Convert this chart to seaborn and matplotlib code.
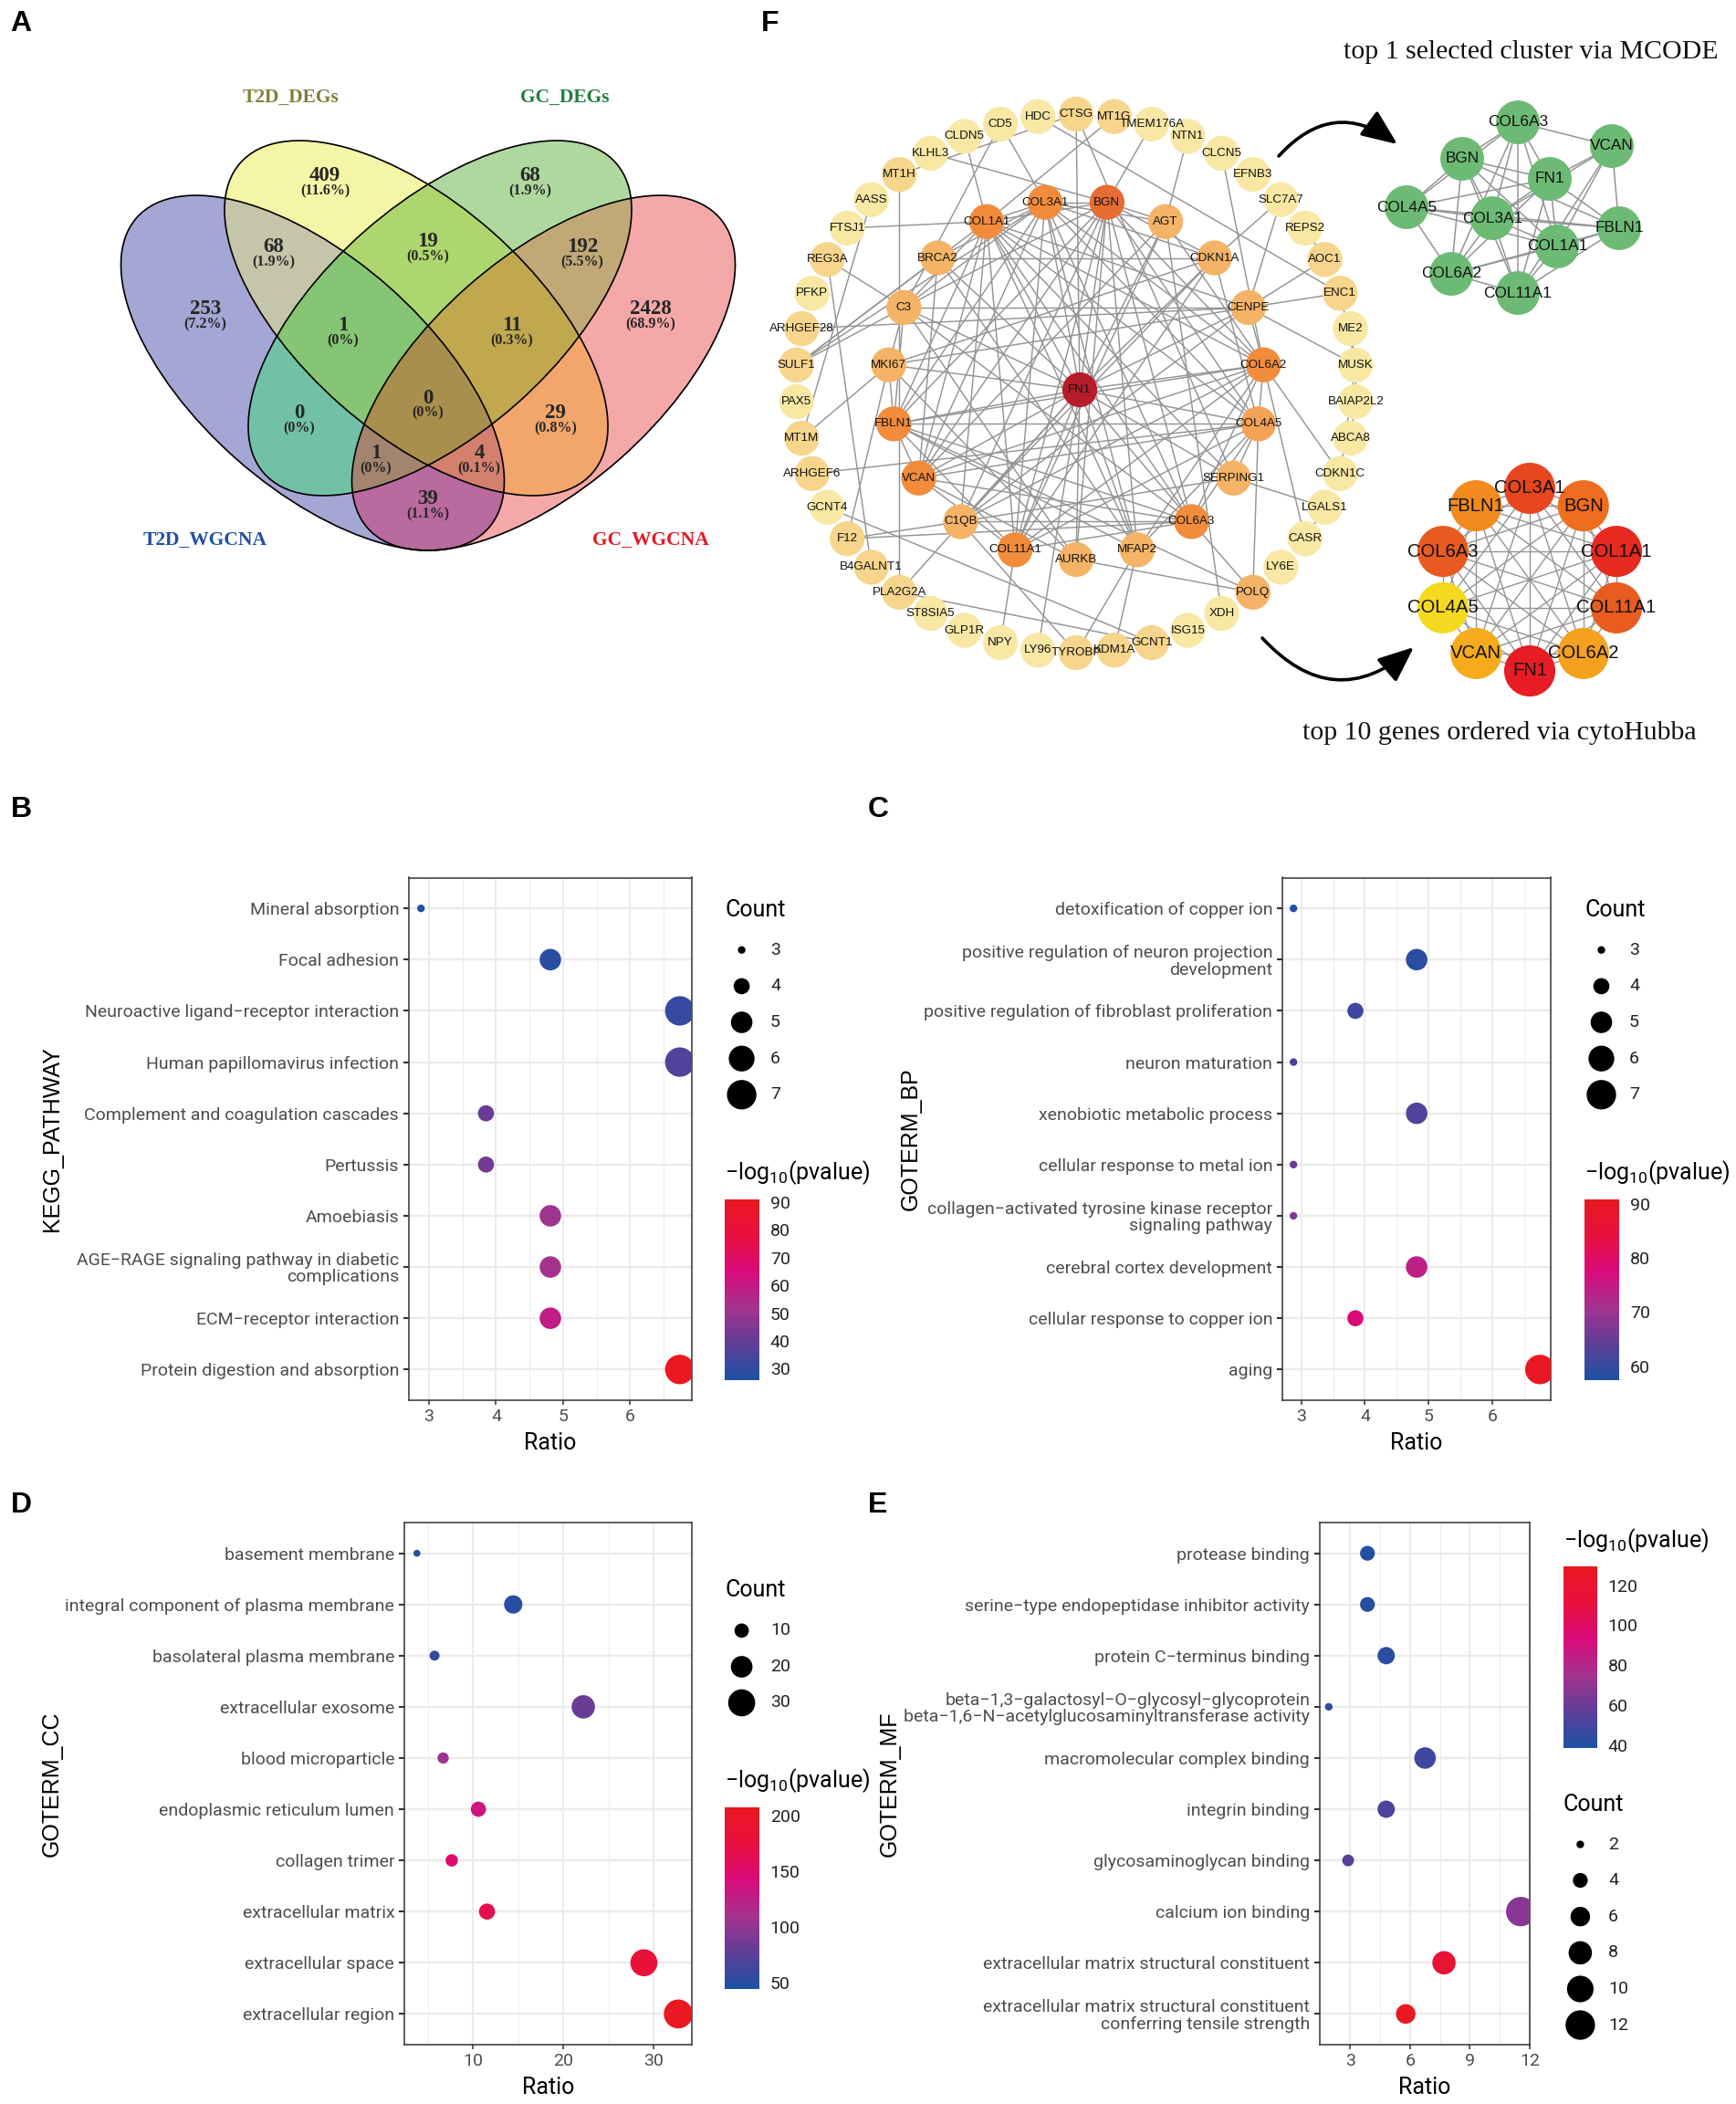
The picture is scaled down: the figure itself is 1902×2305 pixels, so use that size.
import itertools
import numpy as np
import pandas as pd
import seaborn as sns
import matplotlib
matplotlib.use("Agg")
import matplotlib.pyplot as plt
from matplotlib.cm import ScalarMappable
from matplotlib.colors import LinearSegmentedColormap, Normalize, to_rgba
from matplotlib.patches import Ellipse, FancyArrowPatch

W, H = 1902, 2305

# ---- dot plot data
kegg_terms = ["Mineral absorption", "Focal adhesion", "Neuroactive ligand\u2212receptor interaction",
              "Human papillomavirus infection", "Complement and coagulation cascades", "Pertussis",
              "Amoebiasis", "AGE\u2212RAGE signaling pathway in diabetic\ncomplications",
              "ECM\u2212receptor interaction", "Protein digestion and absorption"]
kegg_ratio = [2.88, 4.81, 6.74, 6.74, 3.85, 3.85, 4.81, 4.81, 4.81, 6.74]
kegg_count = [3, 5, 7, 7, 4, 4, 5, 5, 5, 7]
kegg_logp = [27, 29, 31, 36, 41, 43, 51, 52, 59, 90]

bp_terms = ["detoxification of copper ion", "positive regulation of neuron projection\ndevelopment",
            "positive regulation of fibroblast proliferation", "neuron maturation",
            "xenobiotic metabolic process", "cellular response to metal ion",
            "collagen\u2212activated tyrosine kinase receptor\nsignaling pathway",
            "cerebral cortex development", "cellular response to copper ion", "aging"]
bp_ratio = [2.88, 4.81, 3.85, 2.88, 4.81, 2.88, 2.88, 4.81, 3.85, 6.74]
bp_count = [3, 5, 4, 3, 5, 3, 3, 5, 4, 7]
bp_logp = [58, 59, 61, 62, 63, 65, 67, 74, 78, 90]

cc_terms = ["basement membrane", "integral component of plasma membrane", "basolateral plasma membrane",
            "extracellular exosome", "blood microparticle", "endoplasmic reticulum lumen",
            "collagen trimer", "extracellular matrix", "extracellular space", "extracellular region"]
cc_ratio = [3.8, 14.45, 5.75, 22.2, 6.7, 10.6, 7.65, 11.55, 28.9, 32.7]
cc_count = [4, 15, 6, 23, 7, 11, 8, 12, 30, 34]
cc_logp = [48, 50, 55, 82, 105, 135, 150, 165, 180, 205]

mf_terms = ["protease binding", "serine\u2212type endopeptidase inhibitor activity", "protein C\u2212terminus binding",
            "beta\u22121,3\u2212galactosyl\u2212O\u2212glycosyl\u2212glycoprotein\nbeta\u22121,6\u2212N\u2212acetylglucosaminyltransferase activity",
            "macromolecular complex binding", "integrin binding", "glycosaminoglycan binding",
            "calcium ion binding", "extracellular matrix structural constituent",
            "extracellular matrix structural constituent\nconferring tensile strength"]
mf_ratio = [3.86, 3.86, 4.8, 1.92, 6.75, 4.8, 2.89, 11.55, 7.7, 5.78]
mf_count = [4, 4, 5, 2, 7, 5, 3, 12, 8, 6]
mf_logp = [41, 42, 43, 44, 48, 52, 55, 67, 118, 128]

# ---- venn data
venn_counts = [253, 409, 68, 2428, 68, 19, 192, 1, 11, 0, 0, 29, 1, 4, 39]
venn_pcts = ["7.2%", "11.6%", "1.9%", "68.9%", "1.9%", "0.5%", "5.5%", "0%", "0.3%",
             "0%", "0%", "0.8%", "0%", "0.1%", "1.1%"]
venn_x = [225, 356, 581, 713, 300, 469, 638, 376, 561, 328, 469, 609, 412, 525, 469]
venn_y = [342, 196, 196, 342, 274, 268, 274, 360, 360, 456, 439, 456, 500, 500, 550]
venn_sets = ["T2D_WGCNA", "T2D_DEGs", "GC_DEGs", "GC_WGCNA"]

# one colour per overlap, B/Y/G/R = the four sets
region_colors = {"B": "#a4a6d5", "Y": "#f5f5a8", "G": "#afd8a0", "R": "#f5a8a8",
                 "BY": "#c5c6aa", "YG": "#aed66e", "GR": "#c2a878", "BG": "#72c2a7",
                 "YR": "#f4a66d", "BR": "#ba6a9f", "BYG": "#85c573", "YGR": "#c2a84f",
                 "BYR": "#d48070", "BGR": "#a38470", "BYGR": "#a98f4e"}

# ---- network data
outer_genes = ["CTSG", "MT1G", "TMEM176A", "NTN1", "CLCN5", "EFNB3", "SLC7A7", "REPS2", "AOC1", "ENC1", "ME2",
               "MUSK", "BAIAP2L2", "ABCA8", "CDKN1C", "LGALS1", "CASR", "LY6E", "POLQ", "XDH", "ISG15", "GCNT1",
               "KDM1A", "TYROBP", "LY96", "NPY", "GLP1R", "ST8SIA5", "PLA2G2A", "B4GALNT1", "F12", "GCNT4",
               "ARHGEF6", "MT1M", "PAX5", "SULF1", "ARHGEF28", "PFKP", "REG3A", "FTSJ1", "AASS", "MT1H", "KLHL3",
               "CLDN5", "CD5", "HDC"]
inner_genes = ["BGN", "AGT", "CDKN1A", "CENPE", "COL6A2", "COL4A5", "SERPING1", "COL6A3", "MFAP2", "AURKB",
               "COL11A1", "C1QB", "VCAN", "FBLN1", "MKI67", "C3", "BRCA2", "COL1A1", "COL3A1"]
level_1 = ["MT1G", "MT1H", "ENC1", "PLA2G2A", "F12", "B4GALNT1", "SULF1", "MT1M", "ARHGEF6", "ARHGEF28", "CTSG",
           "KDM1A", "TYROBP", "GCNT1", "AOC1", "REG3A"]
level_2 = ["POLQ", "AGT", "CDKN1A", "CENPE", "C3", "BRCA2", "MKI67", "AURKB", "MFAP2", "SERPING1", "C1QB"]
level_3 = ["COL4A5"]
level_4 = ["COL1A1", "COL3A1", "COL6A2", "COL6A3", "FBLN1", "VCAN", "COL11A1"]
level_colors = ["#f8e8a4", "#f7d58c", "#f4b366", "#f4a256", "#f08c3c", "#e66c33", "#b71c2a"]

core_genes = ["FN1", "COL1A1", "COL3A1", "BGN", "COL6A2", "COL6A3", "COL4A5", "COL11A1", "FBLN1", "VCAN"]
other_edges = [("FN1", g) for g in ["AGT", "CDKN1A", "CENPE", "BRCA2", "C3", "MKI67", "SERPING1", "C1QB", "AURKB",
                                    "MFAP2", "CTSG", "LY96", "PLA2G2A"]]
other_edges += [("CTSG", "MT1H"), ("CTSG", "SERPING1"), ("HDC", "ENC1"), ("MT1G", "COL1A1"), ("TMEM176A", "BGN"),
                ("NTN1", "AGT"), ("KLHL3", "BGN"), ("CD5", "COL3A1"), ("CLDN5", "COL1A1"), ("CD5", "C3"),
                ("AASS", "MT1M"), ("MT1H", "PLA2G2A"), ("REG3A", "C3"), ("REG3A", "B4GALNT1"), ("FTSJ1", "COL1A1"),
                ("F12", "C1QB"), ("F12", "MKI67"), ("F12", "COL6A3"), ("MT1M", "MKI67"), ("ARHGEF6", "COL4A5"),
                ("ARHGEF28", "CENPE"), ("SULF1", "BRCA2"), ("SULF1", "COL1A1"), ("SULF1", "C3"), ("SULF1", "COL3A1"),
                ("GCNT4", "GCNT1"), ("PLA2G2A", "GCNT1"), ("C1QB", "TYROBP"), ("COL11A1", "NPY"),
                ("KDM1A", "MFAP2"), ("TYROBP", "MFAP2"), ("POLQ", "AURKB"), ("POLQ", "COL6A3"), ("POLQ", "COL4A5"),
                ("POLQ", "FBLN1"), ("XDH", "AGT"), ("LGALS1", "SERPING1"), ("CASR", "COL6A2"), ("CASR", "LGALS1"),
                ("CDKN1C", "COL6A2"), ("MUSK", "CDKN1C"), ("MUSK", "CENPE"), ("AOC1", "CENPE"), ("ENC1", "CENPE"),
                ("ENC1", "MUSK"), ("ME2", "MUSK"), ("MUSK", "BAIAP2L2"), ("BAIAP2L2", "ABCA8"), ("REPS2", "AOC1"),
                ("SLC7A7", "CENPE"), ("SLC7A7", "CDKN1A"), ("CLCN5", "COL6A2"), ("CDKN1A", "BRCA2"),
                ("COL3A1", "AGT"), ("COL3A1", "CDKN1A"), ("COL3A1", "C3"), ("COL3A1", "BRCA2"), ("COL3A1", "MFAP2"),
                ("COL1A1", "C3"), ("COL1A1", "MFAP2"), ("COL1A1", "SERPING1"), ("COL1A1", "C1QB"), ("COL1A1", "CENPE"),
                ("BGN", "C3"), ("BGN", "C1QB"), ("BGN", "AGT"), ("BGN", "MFAP2"), ("BGN", "CDKN1A"), ("BGN", "AURKB"),
                ("C3", "FBLN1"), ("C3", "MKI67"), ("C3", "AURKB"), ("C3", "COL6A3"), ("C3", "CENPE"), ("BRCA2", "MFAP2"),
                ("BRCA2", "VCAN"), ("MKI67", "CENPE"), ("MKI67", "AURKB"), ("MKI67", "CDKN1A"), ("MKI67", "FBLN1"),
                ("AGT", "COL6A2"), ("AGT", "COL11A1"), ("AGT", "VCAN"), ("CDKN1A", "COL4A5"),
                ("CDKN1A", "COL11A1"), ("CDKN1A", "C1QB"), ("CENPE", "C1QB"), ("CENPE", "COL6A2"),
                ("C1QB", "SERPING1"), ("C1QB", "COL6A3"), ("C1QB", "COL6A2"), ("MFAP2", "COL6A2"),
                ("MFAP2", "FBLN1"), ("MFAP2", "COL4A5"), ("SERPING1", "COL4A5"), ("AURKB", "VCAN")]

mcode_genes = ["COL6A3", "VCAN", "BGN", "FN1", "COL4A5", "COL3A1", "FBLN1", "COL1A1", "COL6A2", "COL11A1"]
mcode_missing = [("VCAN", "COL4A5"), ("VCAN", "COL6A2"), ("VCAN", "BGN"), ("FBLN1", "COL6A3"), ("COL4A5", "COL11A1")]
mcode_x = [1663, 1766, 1602, 1698, 1541, 1635, 1774, 1706, 1590, 1663]
mcode_y = [134, 160, 174, 196, 227, 239, 250, 270, 300, 321]

hubba_genes = ["COL3A1", "BGN", "COL1A1", "COL11A1", "COL6A2", "FN1", "VCAN", "COL4A5", "COL6A3", "FBLN1"]
hubba_colors = ["#e8461f", "#ee6d1f", "#e62a20", "#e85c20", "#f5a01e", "#e71d25", "#f5ab1c", "#f4d91f", "#e85a20",
                "#f28a1e"]

sns.set_theme(style="white")
# the original labels use a condensed Helvetica, Roboto is the closest that is installed
plt.rcParams["font.family"] = ["Roboto", "Liberation Sans", "DejaVu Sans"]
plt.rcParams["mathtext.fontset"] = "custom"
plt.rcParams["mathtext.rm"] = "Roboto"
plt.rcParams["mathtext.it"] = "Roboto"
plt.rcParams["mathtext.bf"] = "Roboto"

TICK_SIZE = 14.0
LOGP_LABEL = r"$\mathrm{-log}_{10}\mathrm{(pvalue)}$"
cmap = LinearSegmentedColormap.from_list(
    "dots", ["#1c52a6", "#5f3e97", "#a4338f", "#d90b7b", "#e9103f", "#e9181f"])

fig = plt.figure(figsize=(W / 100, H / 100), dpi=100, facecolor="white")


def px_axes(left, top, right, bottom, **kw):
    return fig.add_axes([left / W, 1 - bottom / H, (right - left) / W, (bottom - top) / H], **kw)


# overlay in pixel coordinates for the venn, the network and the legends
overlay = px_axes(0, 0, W, H, zorder=5)
overlay.patch.set_alpha(0)
overlay.axis("off")


def dot_panel(terms, ratio, count, logp, box, xlim, major, minor, ylabel, label_x, lim, sizes):
    df = pd.DataFrame({"term": terms, "ratio": ratio, "count": count, "logp": logp})
    ax = px_axes(*box)
    sns.scatterplot(data=df, x="ratio", y="term", hue="logp", size="count", palette=cmap,
                    hue_norm=Normalize(*lim), sizes=sizes, size_norm=(min(count), max(count)),
                    linewidth=0, legend=False, ax=ax, zorder=3)
    ax.set_xlim(*xlim)
    ax.set_ylim(9.6, -0.6)
    ax.set_xticks(major)
    ax.set_xticks(minor, minor=True)
    ax.grid(False)
    ax.set_axisbelow(True)
    ax.grid(axis="y", which="major", color="#ebebeb", lw=1.7)
    ax.grid(axis="x", which="major", color="#ebebeb", lw=1.4)
    ax.grid(axis="x", which="minor", color="#ebebeb", lw=0.7)
    for s in ax.spines.values():
        s.set_color("#333333")
        s.set_linewidth(1.1)
    ax.tick_params(axis="x", which="major", bottom=True, length=3.6, width=1.1, color="#333333",
                   labelsize=TICK_SIZE, labelcolor="#4d4d4d", pad=3)
    ax.tick_params(axis="x", which="minor", bottom=False)
    ax.tick_params(axis="y", left=True, length=4.3, width=1.5, color="#333333",
                   labelsize=TICK_SIZE, labelcolor="#4d4d4d", pad=3.5)
    for lab in ax.get_yticklabels():
        lab.set_multialignment("right")
        lab.set_linespacing(1.03)
    ax.set_xlabel("Ratio", fontsize=18, color="black", labelpad=6)
    ax.set_ylabel(ylabel, fontsize=18, family=["Liberation Sans"], color="black")
    ax.yaxis.set_label_coords((label_x + 13 - box[0]) / (box[2] - box[0]), 0.5)
    return ax


def count_legend(title_x, title_y, dot_x, label_x, ys, values, sizes, value_range):
    overlay.text(title_x, title_y, "Count", fontsize=18, va="center", ha="left", color="black")
    sns.scatterplot(x=[dot_x] * len(values), y=ys, size=values, sizes=sizes, size_norm=value_range,
                    color="black", linewidth=0, legend=False, ax=overlay)
    for y, v in zip(ys, values):
        overlay.text(label_x, y, str(v), fontsize=TICK_SIZE, va="center", ha="left", color="#222222")


def color_bar(title_x, title_y, box, lim, ticks):
    overlay.text(title_x, title_y, LOGP_LABEL, fontsize=18, va="center", ha="left", color="black")
    cax = px_axes(*box)
    cb = fig.colorbar(ScalarMappable(Normalize(*lim), cmap), cax=cax, ticks=ticks)
    cb.outline.set_visible(False)
    cax.tick_params(left=True, right=True, direction="in", color="white", length=5.4, width=0.9,
                    labelsize=TICK_SIZE, labelcolor="#222222", pad=8.5)


SIZE_LARGE = (36, 540)
SIZE_CC = (30, 520)
dot_panel(kegg_terms, kegg_ratio, kegg_count, kegg_logp, (448, 961.5, 758, 1534), (2.70, 6.92), [3, 4, 5, 6],
          [3.5, 4.5, 5.5, 6.5], "KEGG_PATHWAY", 56, (25.8, 91), SIZE_LARGE)
dot_panel(bp_terms, bp_ratio, bp_count, bp_logp, (1405, 961.5, 1699, 1534), (2.706, 6.91), [3, 4, 5, 6],
          [3.5, 4.5, 5.5, 6.5], "GOTERM_BP", 997, (57.4, 90.8), SIZE_LARGE)
dot_panel(cc_terms, cc_ratio, cc_count, cc_logp, (443, 1668, 758, 2240), (2.41, 34.2), [10, 20, 30],
          [5, 15, 25], "GOTERM_CC", 56, (43.9, 207.2), SIZE_CC)
dot_panel(mf_terms, mf_ratio, mf_count, mf_logp, (1446, 1668, 1676, 2240), (1.47, 12), [3, 6, 9, 12],
          [4.5, 7.5, 10.5], "GOTERM_MF", 974, (38.6, 129.4), SIZE_LARGE)

count_legend(794, 997, 812.6, 844, [1040.7, 1080.4, 1120, 1159.7, 1199.3], [3, 4, 5, 6, 7], SIZE_LARGE, (3, 7))
count_legend(1736, 997, 1754.5, 1785, [1040.7, 1080.4, 1120, 1159.7, 1199.3], [3, 4, 5, 6, 7], SIZE_LARGE, (3, 7))
count_legend(794, 1742, 812.6, 844, [1786.4, 1826, 1865.5], [10, 20, 30], SIZE_CC, (4, 34))
count_legend(1712.6, 1977, 1731.4, 1762, [2020.6, 2060, 2099.7, 2139.4, 2179, 2218.5], [2, 4, 6, 8, 10, 12],
             SIZE_LARGE, (2, 12))

color_bar(794, 1284.7, (794, 1314, 832, 1512), (25.8, 91), [30, 40, 50, 60, 70, 80, 90])
color_bar(1736, 1284.7, (1736, 1314, 1774, 1512), (57.4, 90.8), [60, 70, 80, 90])
color_bar(794, 1951, (794, 1980.4, 832, 2179.2), (43.9, 207.2), [50, 100, 150, 200])
color_bar(1712.6, 1687.7, (1712.6, 1716, 1750, 1915), (38.6, 129.4), [40, 60, 80, 100, 120])

# ---- panel A
ELL_A, ELL_B, ELL_ANGLE = 257, 126, 41.4
ell_params = [("B", 342.5, 408.5, ELL_ANGLE), ("Y", 456, 348.5, ELL_ANGLE),
              ("G", 482, 348.5, -ELL_ANGLE), ("R", 595.5, 408.5, -ELL_ANGLE)]
gx, gy = np.meshgrid(np.arange(120, 820, 0.5), np.arange(140, 620, 0.5))
codes = np.full(gx.shape, "", dtype=object)
for key, cx, cy, ang in ell_params:
    t = np.deg2rad(ang)
    u = (gx - cx) * np.cos(t) + (gy - cy) * np.sin(t)
    v = -(gx - cx) * np.sin(t) + (gy - cy) * np.cos(t)
    inside = (u / ELL_A) ** 2 + (v / ELL_B) ** 2 <= 1
    codes[inside] = codes[inside] + key
rgba = np.zeros(gx.shape + (4,))
for key, col in region_colors.items():
    rgba[codes == key] = to_rgba(col)
overlay.imshow(rgba, extent=(120, 820, 620, 140), origin="upper", aspect="auto", interpolation="bilinear", zorder=1)
for key, cx, cy, ang in ell_params:
    overlay.add_patch(Ellipse((cx, cy), 2 * ELL_A, 2 * ELL_B, angle=ang, fill=False, ec="black", lw=1.2, zorder=2))

serif = ["Liberation Serif", "DejaVu Serif"]
for x, y, c, p in zip(venn_x, venn_y, venn_counts, venn_pcts):
    overlay.text(x, y - 3, str(c), fontsize=16.5, family=serif, weight="bold", ha="center", va="center", zorder=3)
    overlay.text(x, y + 13.5, f"({p})", fontsize=11.5, family=serif, weight="bold", ha="center", va="center", zorder=3)
for name, x, y, col in zip(venn_sets, [225, 319, 619, 712.5], [592, 107, 107, 592],
                           ["#1f4fa5", "#7f7f3a", "#1f7f3f", "#e01b24"]):
    overlay.text(x, y, name, fontsize=15.5, family=serif, weight="bold", color=col, ha="center", va="center")


# ---- panel F
def ring(genes, cx, cy, rx, ry, start=0.0):
    ang = np.deg2rad(start + np.arange(len(genes)) * 360 / len(genes))
    return {g: (cx + rx * np.sin(a), cy - ry * np.cos(a)) for g, a in zip(genes, ang)}


def draw_net(pos, edges, colors, size, fontsize, lw=1.0):
    for a, b in edges:
        overlay.plot([pos[a][0], pos[b][0]], [pos[a][1], pos[b][1]], color="#949494", lw=lw, zorder=2,
                     solid_capstyle="round")
    genes = list(pos)
    sns.scatterplot(x=[pos[g][0] for g in genes], y=[pos[g][1] for g in genes], hue=genes,
                    palette=dict(zip(genes, colors)), s=size, linewidth=0, legend=False, ax=overlay, zorder=3)
    for g in genes:
        overlay.text(pos[g][0], pos[g][1], g, fontsize=fontsize, family=["Liberation Sans"], color="#111111",
                     ha="center", va="center", zorder=4)


net_pos = ring(outer_genes, 1179, 420, 307, 295)
net_pos.update(ring(inner_genes, 1179, 416, 206, 197, start=180 / 19))
net_pos["FN1"] = (1183, 427)


def level_color(g):
    if g == "FN1":
        return level_colors[6]
    if g == "BGN":
        return level_colors[5]
    for lev, members in [(1, level_1), (2, level_2), (3, level_3), (4, level_4)]:
        if g in members:
            return level_colors[lev]
    return level_colors[0]


net_edges = list(itertools.combinations(core_genes, 2)) + other_edges
draw_net(net_pos, net_edges, [level_color(g) for g in net_pos], 760, 9.6, lw=1.05)

mcode_pos = {g: (x, y) for g, x, y in zip(mcode_genes, mcode_x, mcode_y)}
mcode_edges = [e for e in itertools.combinations(mcode_genes, 2)
               if e not in mcode_missing and e[::-1] not in mcode_missing]
draw_net(mcode_pos, mcode_edges, ["#6dba74"] * len(mcode_genes), 1190, 12.4, lw=1.1)

hubba_pos = ring(hubba_genes, 1676, 635, 100, 100)
draw_net(hubba_pos, list(itertools.combinations(hubba_genes, 2)), hubba_colors, 1630, 14.6, lw=1.0)

for start, end, rad in [((1401, 171), (1531, 158), -0.45), ((1383, 699), (1549, 709), 0.48)]:
    overlay.add_patch(FancyArrowPatch(start, end, connectionstyle=f"arc3,rad={rad}",
                                      arrowstyle="-|>,head_length=1.0,head_width=0.42", mutation_scale=24,
                                      lw=2.6, color="black", zorder=4, shrinkA=0, shrinkB=0))

overlay.text(1677, 57, "top 1 selected cluster via MCODE", fontsize=21.5, family=serif, ha="center", va="center",
             color="#111111")
overlay.text(1643, 803, "top 10 genes ordered via cytoHubba", fontsize=21.5, family=serif, ha="center", va="center",
             color="#111111")

for letter, x, y in [("A", 23, 26.5), ("B", 23, 887), ("C", 962, 887), ("D", 23, 1649), ("E", 962, 1649),
                     ("F", 844, 26.5)]:
    overlay.text(x, y, letter, fontsize=23, family=["Liberation Sans"], weight="bold", ha="center", va="center",
                 color="black")

overlay.set_xlim(0, W)
overlay.set_ylim(H, 0)
fig.savefig("out.png", dpi=100, facecolor="white")
